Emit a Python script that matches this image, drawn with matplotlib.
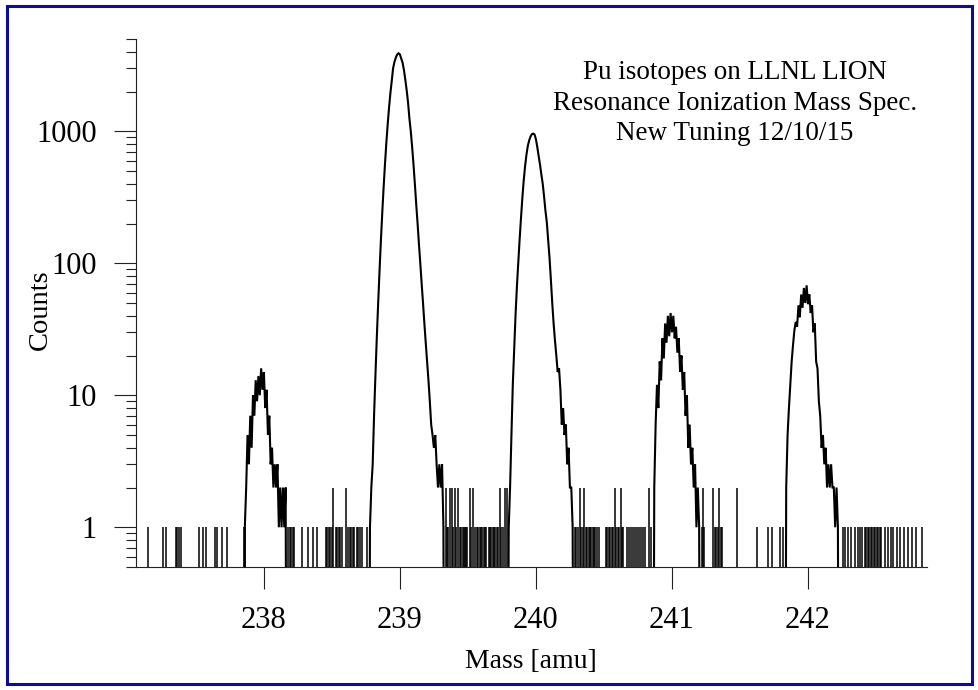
import matplotlib
matplotlib.use("Agg")
import matplotlib.pyplot as plt
from matplotlib.patches import Rectangle
from matplotlib.ticker import FixedLocator, NullLocator, LogLocator, NullFormatter

plt.rcParams['font.family'] = ['Liberation Serif', 'DejaVu Serif']

# ---------------- data ----------------
x_ticks = [238, 239, 240, 241, 242]
y_ticks = [1, 10, 100, 1000]
y_tick_labels = ["1", "10", "100", "1000"]

title_lines = "Pu isotopes on LLNL LION\nResonance Ionization Mass Spec.\nNew Tuning 12/10/15"
x_label = "Mass [amu]"
y_label = "Counts"

# Peak near 238 amu
pk238_mass = [237.85, 237.86, 237.87, 237.88, 237.89, 237.90, 237.91, 237.92, 237.93,
              237.94, 237.95, 237.96, 237.97, 237.98, 237.99, 238.00, 238.01, 238.02,
              238.03, 238.04, 238.05, 238.06, 238.07, 238.08, 238.09, 238.10, 238.11,
              238.12, 238.13, 238.14, 238.15, 238.16, 238.17]
pk238_counts = [0, 1, 2, 5, 3, 7, 4, 10, 7,
                13, 9, 14, 10, 16, 11, 15, 8, 11,
                5, 7, 3, 4, 2, 3, 2, 3, 1,
                2, 1, 2, 1, 2, 0]

# Peak near 239 amu
pk239_mass = [238.77, 238.78, 238.79, 238.80, 238.81, 238.82, 238.83, 238.84, 238.85,
              238.86, 238.87, 238.88, 238.89, 238.90, 238.91, 238.92, 238.93, 238.94,
              238.95, 238.96, 238.97, 238.98, 238.99, 239.00, 239.01, 239.02, 239.03,
              239.04, 239.05, 239.06, 239.07, 239.08, 239.09, 239.10, 239.11, 239.12,
              239.13, 239.14, 239.15, 239.16, 239.17, 239.18, 239.19, 239.20, 239.21,
              239.22, 239.23, 239.24, 239.25, 239.26, 239.27, 239.28, 239.29, 239.30,
              239.31, 239.32, 239.33]
pk239_counts = [0, 1, 2, 3, 7, 14, 27, 49, 86,
                146, 237, 370, 557, 806, 1120, 1500, 1940, 2400,
                3000, 3350, 3610, 3820, 3900, 3820, 3550, 3300, 2900,
                2450, 2040, 1650, 1250, 1000, 760, 560, 400, 280,
                200, 140, 100, 70, 50, 35, 25, 18, 13,
                9, 6, 5, 4, 5, 3, 2, 3, 2,
                3, 1, 0]

# Peak near 240 amu
pk240_mass = [239.79, 239.80, 239.81, 239.82, 239.83, 239.84, 239.85, 239.86, 239.87,
              239.88, 239.89, 239.90, 239.91, 239.92, 239.93, 239.94, 239.95, 239.96,
              239.97, 239.98, 239.99, 240.00, 240.01, 240.02, 240.03, 240.04, 240.05,
              240.06, 240.07, 240.08, 240.09, 240.10, 240.11, 240.12, 240.13, 240.14,
              240.15, 240.16, 240.17, 240.18, 240.19, 240.20, 240.21, 240.22, 240.23,
              240.24, 240.25, 240.26, 240.27, 240.28]
pk240_counts = [0, 1, 2, 5, 12, 22, 40, 66, 100,
                150, 218, 310, 420, 540, 660, 770, 850, 910,
                950, 960, 945, 870, 760, 650, 560, 470, 400,
                320, 250, 205, 150, 110, 75, 50, 35, 26,
                20, 15, 16, 11, 6, 8, 5, 6, 3,
                4, 2, 2, 1, 0]

# Peak near 241 amu
pk241_mass = [240.86, 240.87, 240.88, 240.89, 240.90, 240.91, 240.92, 240.93, 240.94,
              240.95, 240.96, 240.97, 240.98, 240.99, 241.00, 241.01, 241.02, 241.03,
              241.04, 241.05, 241.06, 241.07, 241.08, 241.09, 241.10, 241.11, 241.12,
              241.13, 241.14, 241.15, 241.16, 241.17, 241.18, 241.19, 241.20, 241.21]
pk241_counts = [0, 2, 6, 12, 8, 18, 13, 27, 19,
                35, 25, 40, 28, 42, 30, 40, 27, 33,
                21, 27, 15, 20, 11, 15, 7, 10, 4,
                6, 3, 4, 2, 3, 1, 2, 1, 0]

# Peak near 242 amu
pk242_mass = [241.83, 241.84, 241.85, 241.86, 241.87, 241.88, 241.89, 241.90, 241.91,
              241.92, 241.93, 241.94, 241.95, 241.96, 241.97, 241.98, 241.99, 242.00,
              242.01, 242.02, 242.03, 242.04, 242.05, 242.06, 242.07, 242.08, 242.09,
              242.10, 242.11, 242.12, 242.13, 242.14, 242.15, 242.16, 242.17, 242.18,
              242.19, 242.20, 242.21, 242.22, 242.23]
pk242_counts = [0, 2, 5, 8, 12, 18, 24, 31, 36,
                33, 48, 39, 58, 46, 65, 50, 68, 49,
                58, 42, 48, 30, 35, 18, 16, 9, 7,
                4, 5, 3, 4, 2, 3, 2, 3, 2,
                2, 1, 2, 1, 0]

# Isolated background counts between the peaks
bg_mass = [237.149, 237.260, 237.279, 237.351, 237.360, 237.377, 237.390, 237.522,
           237.554, 237.574, 237.640, 237.652, 237.693, 237.726, 237.853, 237.862,
           238.180, 238.191, 238.202, 238.213, 238.224, 238.277, 238.326, 238.358,
           238.392, 238.456, 238.467, 238.478, 238.488, 238.498, 238.510, 238.529,
           238.540, 238.551, 238.563, 238.574, 238.601, 238.621, 238.632, 238.643,
           238.654, 238.665, 238.684, 238.695, 238.706, 238.721, 238.760,
           239.336, 239.346, 239.355, 239.368, 239.380, 239.390, 239.404, 239.415,
           239.429, 239.441, 239.452, 239.463, 239.470, 239.478, 239.485, 239.493,
           239.515, 239.526, 239.539, 239.551, 239.566, 239.573, 239.588, 239.596,
           239.603, 239.618, 239.627, 239.636, 239.654, 239.662, 239.669, 239.684,
           239.691, 239.699, 239.713, 239.724, 239.735, 239.746, 239.757, 239.772,
           239.785,
           240.287, 240.298, 240.309, 240.324, 240.335, 240.346, 240.355, 240.368,
           240.379, 240.390, 240.397, 240.404, 240.419, 240.427, 240.434, 240.449,
           240.463, 240.515, 240.526, 240.537, 240.548, 240.559, 240.570, 240.581,
           240.592, 240.603, 240.614, 240.622, 240.632, 240.643, 240.669, 240.684,
           240.699, 240.713, 240.728, 240.743, 240.757, 240.772, 240.787, 240.801,
           240.833, 240.848,
           241.221, 241.228, 241.239, 241.301, 241.313, 241.324, 241.335, 241.346,
           241.357, 241.368, 241.478, 241.625, 241.706, 241.735, 241.794, 241.816,
           242.257, 242.272, 242.294, 242.316, 242.346, 242.368, 242.382, 242.397,
           242.419, 242.430, 242.441, 242.452, 242.463, 242.474, 242.485, 242.496,
           242.507, 242.518, 242.529, 242.540, 242.566, 242.588, 242.610, 242.625,
           242.654, 242.676, 242.706, 242.735, 242.765, 242.794, 242.838]
bg_counts = [1, 1, 1, 1, 1, 1, 1, 1,
             1, 1, 1, 1, 1, 1, 1, 1,
             1, 1, 1, 1, 1, 1, 1, 1,
             1, 1, 1, 1, 1, 1, 2, 1,
             1, 1, 1, 1, 2, 1, 1, 1,
             1, 1, 1, 1, 1, 1, 1,
             2, 1, 1, 2, 2, 1, 2, 1,
             2, 1, 1, 1, 1, 1, 1, 1,
             2, 1, 2, 1, 1, 1, 1, 1,
             1, 1, 1, 1, 1, 1, 1, 1,
             1, 1, 1, 1, 2, 1, 1, 2,
             2,
             1, 1, 1, 2, 1, 1, 2, 1,
             1, 1, 1, 1, 1, 1, 1, 1,
             1, 1, 1, 1, 1, 1, 1, 2,
             1, 1, 1, 2, 1, 1, 1, 1,
             1, 1, 1, 1, 1, 1, 1, 1,
             2, 1,
             1, 2, 1, 2, 1, 1, 1, 2,
             1, 1, 2, 1, 1, 1, 1, 1,
             1, 1, 1, 1, 1, 1, 1, 1,
             1, 1, 1, 1, 1, 1, 1, 1,
             1, 1, 1, 1, 1, 1, 1, 1,
             1, 1, 1, 1, 1, 1, 1]

# ---------------- figure ----------------
W, H = 979, 690
fig = plt.figure(figsize=(W / 100, H / 100), dpi=100)
ax = fig.add_axes([136 / W, 123 / H, 791 / W, 528 / H])
ax.set_yscale('log')

line_kw = dict(color='black', lw=1.5, solid_joinstyle='miter')
for m, c in [(pk238_mass, pk238_counts), (pk239_mass, pk239_counts),
             (pk240_mass, pk240_counts), (pk241_mass, pk241_counts),
             (pk242_mass, pk242_counts)]:
    ax.plot(m, [v if v > 0 else 1e-3 for v in c], **line_kw)
ax.vlines(bg_mass, 1e-3, bg_counts, color='black', lw=1.1)

ax.set_xlim(237.06, 242.875)
ax.set_ylim(0.5, 5000)

for s in ['top', 'right']:
    ax.spines[s].set_visible(False)
for s in ['left', 'bottom']:
    ax.spines[s].set_linewidth(0.8)
    ax.spines[s].set_color('#222222')

ax.xaxis.set_major_locator(FixedLocator(x_ticks))
ax.xaxis.set_minor_locator(NullLocator())
ax.set_xticklabels([str(t) for t in x_ticks])
ax.yaxis.set_major_locator(FixedLocator(y_ticks))
ax.set_yticklabels(y_tick_labels)
ax.yaxis.set_minor_locator(LogLocator(base=10, subs=[2, 3, 4, 5, 6, 7, 8, 9], numticks=20))
ax.yaxis.set_minor_formatter(NullFormatter())

ax.tick_params(axis='both', which='major', direction='out', length=16, width=0.8,
               labelsize=22, pad=12, color='#222222')
ax.tick_params(axis='y', which='minor', direction='out', length=7.5, width=0.8,
               color='#222222')

fig.text(40 / W, 1 - 310 / H, y_label, rotation=90, ha='center', va='center', fontsize=20.5)
fig.text(531 / W, 1 - 662 / H, x_label, ha='center', va='center', fontsize=20)
fig.text(735 / W, 1 - 103 / H, title_lines, ha='center', va='center', fontsize=19.5,
         linespacing=1.3)

fig.patches.append(Rectangle((7 / W, 6 / H), 965 / W, 678 / H, transform=fig.transFigure,
                             fill=False, edgecolor='#0c0c96', lw=2.2))

fig.savefig('out.png', dpi=100)
